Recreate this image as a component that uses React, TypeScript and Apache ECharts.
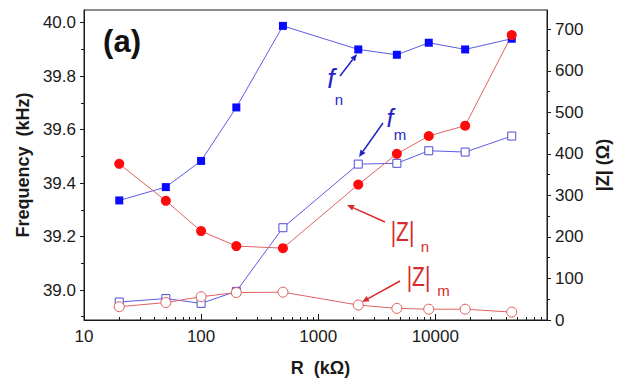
import React, { useEffect, useRef } from "react";
import * as echarts from "echarts";

// ---- data ----
const R = [20, 50, 100, 200, 500, 2200, 4700, 8800, 18000, 45000];
const fN = [39.335, 39.385, 39.483, 39.683, 39.988, 39.9, 39.88, 39.925, 39.9, 39.94];
const fM = [38.955, 38.968, 38.95, 38.995, 39.233, 39.471, 39.474, 39.521, 39.516, 39.576];
const zN = [376, 287, 214, 178, 173, 326, 400, 443, 468, 686];
const zM = [32, 42, 56, 66, 67, 36, 28, 26, 26, 19];

const xMajor = [10, 100, 1000, 10000];
const xMinor = [
  20, 30, 40, 50, 60, 70, 80, 90,
  200, 300, 400, 500, 600, 700, 800, 900,
  2000, 3000, 4000, 5000, 6000, 7000, 8000, 9000,
  20000, 30000, 40000, 50000, 60000, 70000, 80000, 90000,
];
const fMajor = [39.0, 39.2, 39.4, 39.6, 39.8, 40.0];
const fMinor = [38.9, 39.1, 39.3, 39.5, 39.7, 39.9];
const zMajor = [0, 100, 200, 300, 400, 500, 600, 700];
const zMinor = [50, 150, 250, 350, 450, 550, 650];

const FONT = "'Liberation Sans', Arial, Helvetica, sans-serif";
const AX = "#1a1a1a";

function arrow(x1: number, y1: number, x2: number, y2: number, color: string) {
  const dx = x2 - x1, dy = y2 - y1;
  const L = Math.hypot(dx, dy);
  const ux = dx / L, uy = dy / L;
  const hl = 7, hw = 3;
  const bx = x2 - ux * hl, by = y2 - uy * hl;
  return [
    { type: "line", z: 100, shape: { x1, y1, x2: bx, y2: by }, style: { stroke: color, lineWidth: 1.5 } },
    {
      type: "polygon", z: 100,
      shape: { points: [[x2, y2], [bx - uy * hw, by + ux * hw], [bx + uy * hw, by - ux * hw]] },
      style: { fill: color },
    },
  ];
}

function txt(text: string, x: number, y: number, font: string, fill: string, scaleX = 1) {
  return {
    type: "text", z: 100, x, y, scaleX,
    style: {
      text, font, fill,
      align: "center", verticalAlign: "middle",
      textAlign: "center", textVerticalAlign: "middle",
    },
  };
}

const BLUE_T = "#2323c8";
const RED_T = "#d82a2a";

export default function App() {
  const ref = useRef<HTMLDivElement>(null);
  useEffect(() => {
    if (!ref.current) return;
    const chart = echarts.init(ref.current, null, { renderer: "svg" });
    const logBase = {
      type: "log", logBase: 10, min: 10, max: 90000, gridIndex: 0, position: "bottom",
      splitLine: { show: false }, minorTick: { show: false }, minorSplitLine: { show: false },
    };
    const labelStyle = { fontFamily: FONT, fontSize: 17, color: AX };
    chart.setOption({
      animation: false,
      backgroundColor: "#ffffff",
      grid: { left: 84, right: 76, top: 10, bottom: 65, show: true, borderColor: AX, borderWidth: 1, backgroundColor: "transparent" },
      xAxis: [
        {
          ...logBase,
          axisLine: { show: true, onZero: false, lineStyle: { color: AX, width: 1 } },
          axisTick: { show: true, inside: true, length: 6, customValues: xMajor, lineStyle: { color: AX } },
          axisLabel: { ...labelStyle, margin: 8, customValues: xMajor, formatter: (v: number) => String(Math.round(v)) },
          name: "R  (kΩ)", nameLocation: "middle", nameGap: 39,
          nameTextStyle: { fontFamily: FONT, fontSize: 18, fontWeight: "bold", color: AX, padding: [0, 0, 0, 10] },
        },
        {
          ...logBase,
          axisLine: { show: false, onZero: false },
          axisTick: { show: true, inside: true, length: 3, customValues: xMinor, lineStyle: { color: AX } },
          axisLabel: { show: false },
        },
      ],
      yAxis: [
        {
          type: "value", position: "left", min: 38.8878, max: 40.0475, gridIndex: 0,
          splitLine: { show: false },
          axisLine: { show: true, onZero: false, lineStyle: { color: AX, width: 1 } },
          axisTick: { show: true, inside: false, length: 4, customValues: fMajor, lineStyle: { color: AX } },
          axisLabel: { ...labelStyle, margin: 8, customValues: fMajor, formatter: (v: number) => v.toFixed(1) },
          name: "Frequency  (kHz)", nameLocation: "middle", nameGap: 52, nameRotate: 90,
          nameTextStyle: { fontFamily: FONT, fontSize: 18, fontWeight: "bold", color: AX },
        },
        {
          type: "value", position: "left", min: 38.8878, max: 40.0475, gridIndex: 0,
          splitLine: { show: false },
          axisLine: { show: false, onZero: false },
          axisTick: { show: true, inside: false, length: 3, customValues: fMinor, lineStyle: { color: AX } },
          axisLabel: { show: false },
        },
        {
          type: "value", position: "right", min: 0, max: 746.4, gridIndex: 0,
          splitLine: { show: false },
          axisLine: { show: true, onZero: false, lineStyle: { color: AX, width: 1 } },
          axisTick: { show: true, inside: false, length: 4, customValues: zMajor, lineStyle: { color: AX } },
          axisLabel: { ...labelStyle, margin: 8, customValues: zMajor, formatter: (v: number) => String(Math.round(v)) },
          name: "|Z| (Ω)", nameLocation: "middle", nameGap: 42, nameRotate: 90,
          nameTextStyle: { fontFamily: FONT, fontSize: 18, fontWeight: "bold", color: AX },
        },
        {
          type: "value", position: "right", min: 0, max: 746.4, gridIndex: 0,
          splitLine: { show: false },
          axisLine: { show: false, onZero: false },
          axisTick: { show: true, inside: false, length: 3, customValues: zMinor, lineStyle: { color: AX } },
          axisLabel: { show: false },
        },
      ],
      series: [
        {
          name: "fn", type: "line", xAxisIndex: 0, yAxisIndex: 0,
          data: R.map((r, i) => [r, fN[i]]),
          symbol: "rect", symbolSize: 8,
          itemStyle: { color: "#0a0aff" },
          lineStyle: { color: "#5c5ce6", width: 1 },
        },
        {
          name: "fm", type: "line", xAxisIndex: 0, yAxisIndex: 0,
          data: R.map((r, i) => [r, fM[i]]),
          symbol: "rect", symbolSize: 8,
          itemStyle: { color: "#ffffff", borderColor: "#4c4cd8", borderWidth: 1 },
          lineStyle: { color: "#5c5ce6", width: 1 },
        },
        {
          name: "Zn", type: "line", xAxisIndex: 0, yAxisIndex: 2,
          data: R.map((r, i) => [r, zN[i]]),
          symbol: "circle", symbolSize: 10,
          itemStyle: { color: "#ff0a0a" },
          lineStyle: { color: "#e06262", width: 1 },
        },
        {
          name: "Zm", type: "line", xAxisIndex: 0, yAxisIndex: 2,
          data: R.map((r, i) => [r, zM[i]]),
          symbol: "circle", symbolSize: 10,
          itemStyle: { color: "#ffffff", borderColor: "#e05a5a", borderWidth: 1 },
          lineStyle: { color: "#e06262", width: 1 },
        },
      ],
      graphic: [
        txt("(a)", 122, 41, `bold 31px ${FONT}`, "#111111"),
        txt("f", 331, 79, `italic 27px ${FONT}`, BLUE_T),
        txt("n", 339, 99, `15px ${FONT}`, BLUE_T),
        ...arrow(340, 76, 357, 54, BLUE_T),
        txt("f", 390, 118, `italic 25px ${FONT}`, BLUE_T),
        txt("m", 400, 134, `15px ${FONT}`, BLUE_T),
        ...arrow(383, 123, 359, 157, BLUE_T),
        txt("|Z|", 402.5, 231, `28px ${FONT}`, RED_T, 0.75),
        txt("n", 425, 246, `15px ${FONT}`, RED_T),
        ...arrow(385, 222, 347, 205, RED_T),
        txt("|Z|", 418.5, 276, `28px ${FONT}`, RED_T, 0.75),
        txt("m", 443.5, 290, `15px ${FONT}`, RED_T),
        ...arrow(400, 281, 362, 302, RED_T),
      ],
    });
    return () => chart.dispose();
  }, []);
  return (
    <div
      ref={ref}
      style={{ position: "fixed", left: 0, top: 0, width: 623, height: 385, background: "#fff" }}
    />
  );
}
